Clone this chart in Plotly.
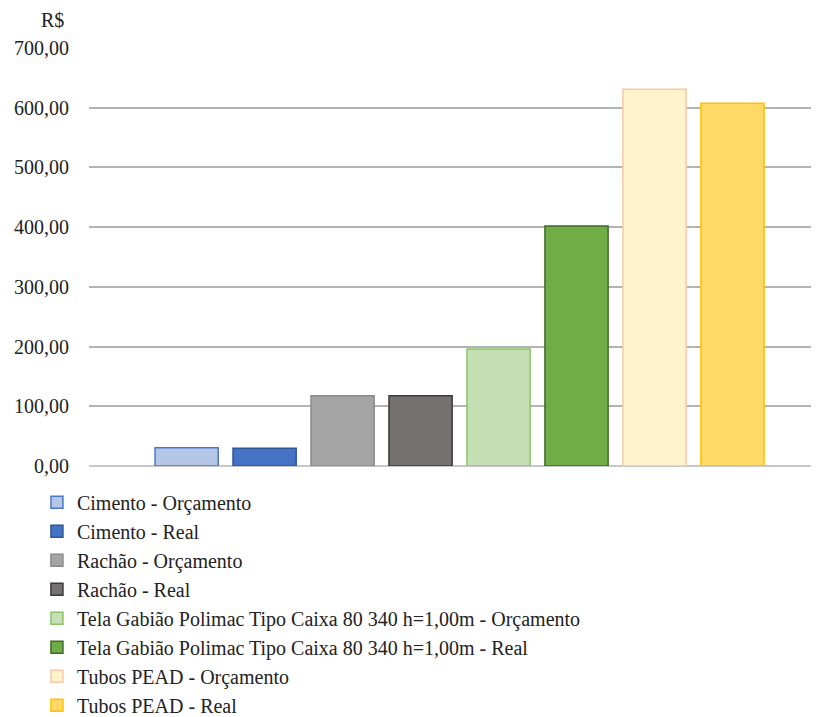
import plotly.graph_objects as go

category = [""]
series_names = [
    "Cimento - Orçamento",
    "Cimento - Real",
    "Rachão - Orçamento",
    "Rachão - Real",
    "Tela Gabião Polimac Tipo Caixa 80 340 h=1,00m - Orçamento",
    "Tela Gabião Polimac Tipo Caixa 80 340 h=1,00m - Real",
    "Tubos PEAD - Orçamento",
    "Tubos PEAD - Real",
]
series_values = [30.5, 29.6, 117.8, 117.8, 196.0, 402.0, 631.0, 607.5]
fill_colors = ["#b4c7e7", "#4472c4", "#a5a5a5", "#767171",
               "#c5e0b4", "#70ad47", "#fff2cc", "#ffd966"]
line_colors = ["#4a78c8", "#2f5597", "#8a8a8a", "#3a3838",
               "#8cc46a", "#3f6a26", "#f8c8a8", "#ffc000"]
y_ticks = [0, 100, 200, 300, 400, 500, 600, 700]

FONT = "Times New Roman, Liberation Serif, DejaVu Serif, serif"

L, T, PW, PH = 81, 40, 728, 418

fig = go.Figure()
for name, val, fc, lc in zip(series_names, series_values, fill_colors, line_colors):
    fig.add_trace(go.Bar(
        x=category, y=[val], name=name, legendgroup=name,
        marker=dict(color=fc, line=dict(color=lc, width=1.5)),
    ))

fig.update_layout(
    width=819, height=717,
    margin=dict(l=L, r=819 - L - PW, t=T, b=717 - T - PH, autoexpand=False),
    paper_bgcolor="white", plot_bgcolor="white",
    barmode="group", bargap=0, bargroupgap=0.19,
    separators=",.",
    font=dict(family=FONT, size=20, color="#222222"),
    showlegend=True,
    legend=dict(
        orientation="v", x=-0.0715, xanchor="left", y=-0.040, yanchor="top",
        traceorder="grouped", tracegroupgap=0,
        font=dict(family=FONT, size=20, color="#222222"),
        itemwidth=30, bgcolor="rgba(0,0,0,0)",
    ),
    xaxis=dict(
        type="category", range=[-0.594, 0.573], showticklabels=False,
        showgrid=False, showline=False, zeroline=False, fixedrange=True,
    ),
    yaxis=dict(
        range=[0, 700], tickvals=y_ticks, tickformat=".2f",
        showgrid=True, gridcolor="#b3b3b3", gridwidth=1.5,
        zeroline=True, zerolinecolor="#c8c8c8", zerolinewidth=1.5,
        showline=False, ticks="", ticklabelstandoff=19,
        tickfont=dict(family=FONT, size=20, color="#222222"),
    ),
    annotations=[dict(
        text="R$", xref="paper", yref="paper",
        x=(44 - L) / PW, y=(T + PH - 12) / PH,
        xanchor="center", yanchor="middle", showarrow=False,
        font=dict(family=FONT, size=20, color="#222222"),
    )],
)

fig.write_html("out.html")
